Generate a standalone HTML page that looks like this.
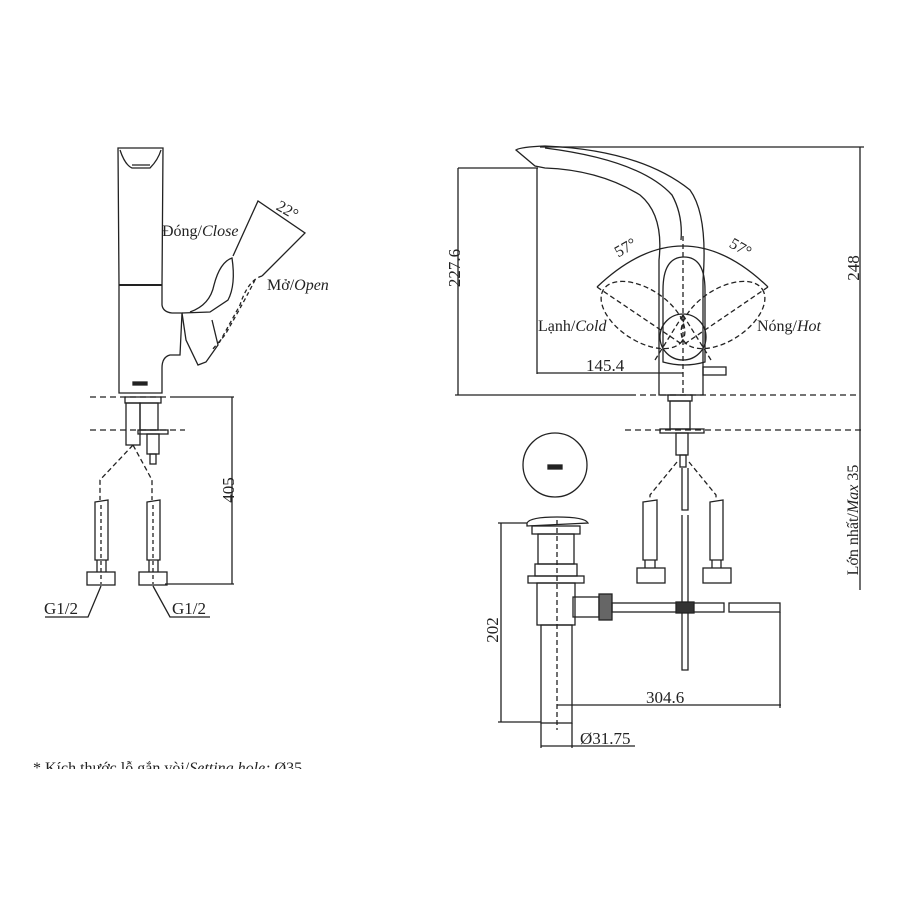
<!DOCTYPE html>
<html><head><meta charset="utf-8"><style>
html,body{margin:0;padding:0;background:#fff;}
svg{display:block;}
text{font-family:"Liberation Serif",serif;fill:#222;}
</style></head><body>
<svg width="900" height="900" viewBox="0 0 900 900" xmlns="http://www.w3.org/2000/svg">
<rect width="900" height="900" fill="#fff"/>
<g fill="none" stroke="#222" stroke-width="1.3">
<!-- LEFT FAUCET -->
<path d="M118,148 L163,148 L162,285 L162,305 Q163,312 172,313 L182,313 L180,355 L170,355 Q162,357 162,368 L162,393 L119,393 L119,285 Z"/>
<line x1="119" y1="285" x2="162" y2="285" stroke-width="2"/>
<path d="M120,150 Q125,165 132,168 L150,168 Q158,160 161,150"/>
<path d="M132,165 L150,165"/>
<rect x="133" y="382" width="14" height="3" fill="#222"/>
<path d="M182,313 L210,312 L228,300 Q236,285 232,258 Q220,262 214,285 Q210,305 190,312"/>
<path d="M182,313 L186,340 L198,365 L206,362 L218,345 L212,320"/>
<path d="M233,256 L258,201 L305,233 L262,276"/>
<path d="M262,276 Q248,280 240,305 L218,345" stroke-dasharray="4,3"/>
<path d="M255,280 Q245,300 225,335 L212,350" stroke-dasharray="4,3"/>
<line x1="90" y1="397" x2="175" y2="397" stroke-dasharray="6,4"/>
<line x1="175" y1="397" x2="234" y2="397"/>
<line x1="90" y1="430" x2="185" y2="430" stroke-dasharray="6,4"/>
<line x1="232" y1="397" x2="232" y2="584"/>
<line x1="165" y1="584" x2="234" y2="584"/>
<rect x="125" y="397" width="36" height="6"/>
<rect x="126" y="403" width="14" height="42"/>
<rect x="140" y="403" width="18" height="27"/>
<rect x="138" y="430" width="30" height="4"/>
<rect x="147" y="434" width="12" height="20"/>
<rect x="150" y="454" width="6" height="10"/>
<path d="M133,445 L100,480 L100,500 M133,445 L152,480 L152,500" stroke-dasharray="5,3"/>
<path d="M95,502 L108,500 L108,560 L95,560 Z"/><path d="M97,560 L97,572 M106,560 L106,572"/>
<rect x="87" y="572" width="28" height="13"/>
<line x1="101" y1="505" x2="101" y2="584" stroke-dasharray="4,3"/>
<path d="M147,502 L160,500 L160,560 L147,560 Z"/><path d="M149,560 L149,572 M158,560 L158,572"/>
<rect x="139" y="572" width="28" height="13"/>
<line x1="153" y1="505" x2="153" y2="584" stroke-dasharray="4,3"/>
<path d="M101,586 L88,617 L45,617"/>
<path d="M153,586 L170,617 L210,617"/>

<!-- RIGHT FAUCET -->
<path d="M516,150 Q520,147 545,146 Q640,150 690,190 Q708,215 703,280 L703,395 L659,395 L659,260 Q664,215 640,195 Q600,170 545,168 L535,166 Z"/>
<path d="M545,148 Q640,160 672,195 Q683,215 681,240"/>
<path d="M663,290 Q663,257 684,257 Q705,257 705,290 L705,362 Q684,368 663,362 Z"/>
<circle cx="683" cy="337" r="23"/>
<rect x="703" y="367" width="23" height="8"/>
<path d="M597,287 Q683,205 768,287"/>
<line x1="683" y1="236" x2="683" y2="395" stroke-dasharray="5,3"/>
<g stroke-dasharray="5,3">
<ellipse cx="643" cy="315" rx="47" ry="26" transform="rotate(33 643 315)"/>
<ellipse cx="723" cy="315" rx="47" ry="26" transform="rotate(-33 723 315)"/>
<line x1="597" y1="287" x2="683" y2="345"/><line x1="768" y1="287" x2="683" y2="345"/>
<line x1="683" y1="315" x2="655" y2="360"/><line x1="683" y1="315" x2="711" y2="360"/>
</g>
<line x1="540" y1="147" x2="864" y2="147"/>
<line x1="860" y1="147" x2="860" y2="395"/>
<line x1="458" y1="168" x2="538" y2="168"/>
<line x1="458" y1="168" x2="458" y2="395"/>
<line x1="455" y1="395" x2="630" y2="395"/>
<line x1="630" y1="395" x2="860" y2="395" stroke-dasharray="6,4"/>
<line x1="625" y1="430" x2="864" y2="430" stroke-dasharray="6,4"/>
<line x1="860" y1="395" x2="860" y2="590"/>
<line x1="537" y1="168" x2="537" y2="374"/>
<line x1="537" y1="373" x2="683" y2="373"/>
<rect x="668" y="395" width="24" height="6"/>
<rect x="670" y="401" width="20" height="28"/>
<rect x="660" y="429" width="44" height="4"/>
<rect x="676" y="433" width="12" height="22"/>
<rect x="680" y="455" width="6" height="12"/>
<path d="M677,462 L650,495 L650,500 M689,462 L716,495 L716,500" stroke-dasharray="5,3"/>
<path d="M682,468 L682,510 L688,510 L688,468 M682,515 L682,670 L688,670 L688,515"/>
<path d="M643,502 L657,500 L657,560 L643,560 Z"/><rect x="637" y="568" width="28" height="15"/><path d="M645,560 L645,568 M655,560 L655,568"/>
<path d="M710,502 L723,500 L723,560 L710,560 Z"/><rect x="703" y="568" width="28" height="15"/><path d="M712,560 L712,568 M721,560 L721,568"/>
<circle cx="555" cy="465" r="32"/>
<rect x="548" y="465" width="14" height="4" fill="#222"/>
<path d="M527,523 Q530,517 557,517 Q585,517 588,523 L527,526 Z"/>
<rect x="532" y="526" width="48" height="8"/>
<rect x="538" y="534" width="36" height="30"/>
<rect x="535" y="564" width="42" height="12"/>
<rect x="528" y="576" width="56" height="7"/>
<rect x="537" y="583" width="38" height="42"/>
<rect x="541" y="625" width="31" height="98"/>
<rect x="573" y="597" width="26" height="20"/>
<rect x="599" y="594" width="13" height="26" fill="#666"/>
<rect x="612" y="603" width="112" height="9"/>
<rect x="676" y="602" width="18" height="11" fill="#333"/>
<rect x="729" y="603" width="51" height="9"/>
<line x1="557" y1="520" x2="557" y2="730" stroke-dasharray="5,3"/>
<line x1="498" y1="523" x2="527" y2="523"/>
<line x1="501" y1="523" x2="501" y2="722"/>
<line x1="498" y1="722" x2="541" y2="722"/>
<line x1="557" y1="705" x2="781" y2="705"/>
<line x1="780" y1="612" x2="780" y2="708"/>
<line x1="541" y1="723" x2="541" y2="748"/>
<line x1="572" y1="723" x2="572" y2="748"/>
<line x1="541" y1="746" x2="635" y2="746"/>
</g>
<g font-size="16">
<text x="162" y="236">Đóng/<tspan font-style="italic">Close</tspan></text>
<text x="267" y="290">Mở/<tspan font-style="italic">Open</tspan></text>
<text x="276" y="214" transform="rotate(30 285 210)">22°</text>
<text x="44" y="614" font-size="17">G1/2</text>
<text x="172" y="614" font-size="17">G1/2</text>
<text x="234" y="490" transform="rotate(-90 234 490)" text-anchor="middle" font-size="17">405</text>
<text x="460" y="268" transform="rotate(-90 460 268)" text-anchor="middle" font-size="17">227.6</text>
<text x="859" y="268" transform="rotate(-90 859 268)" text-anchor="middle" font-size="17">248</text>
<text x="858" y="520" transform="rotate(-90 858 520)" text-anchor="middle">Lớn nhất/<tspan font-style="italic">Max</tspan> 35</text>
<text x="538" y="331">Lạnh/<tspan font-style="italic">Cold</tspan></text>
<text x="757" y="331">Nóng/<tspan font-style="italic">Hot</tspan></text>
<text x="586" y="371" font-size="17">145.4</text>
<text x="628" y="252" transform="rotate(-30 628 252)" text-anchor="middle">57°</text>
<text x="738" y="252" transform="rotate(30 738 252)" text-anchor="middle">57°</text>
<text x="498" y="630" transform="rotate(-90 498 630)" text-anchor="middle" font-size="17">202</text>
<text x="646" y="703" font-size="17">304.6</text>
<text x="580" y="744" font-size="17">Ø31.75</text>
</g>
<svg x="0" y="740" width="900" height="29"><text x="33" y="33" font-size="16">* Kích thước lỗ gắn vòi/<tspan font-style="italic">Setting hole:</tspan> Ø35</text></svg>
</svg>
</body></html>
